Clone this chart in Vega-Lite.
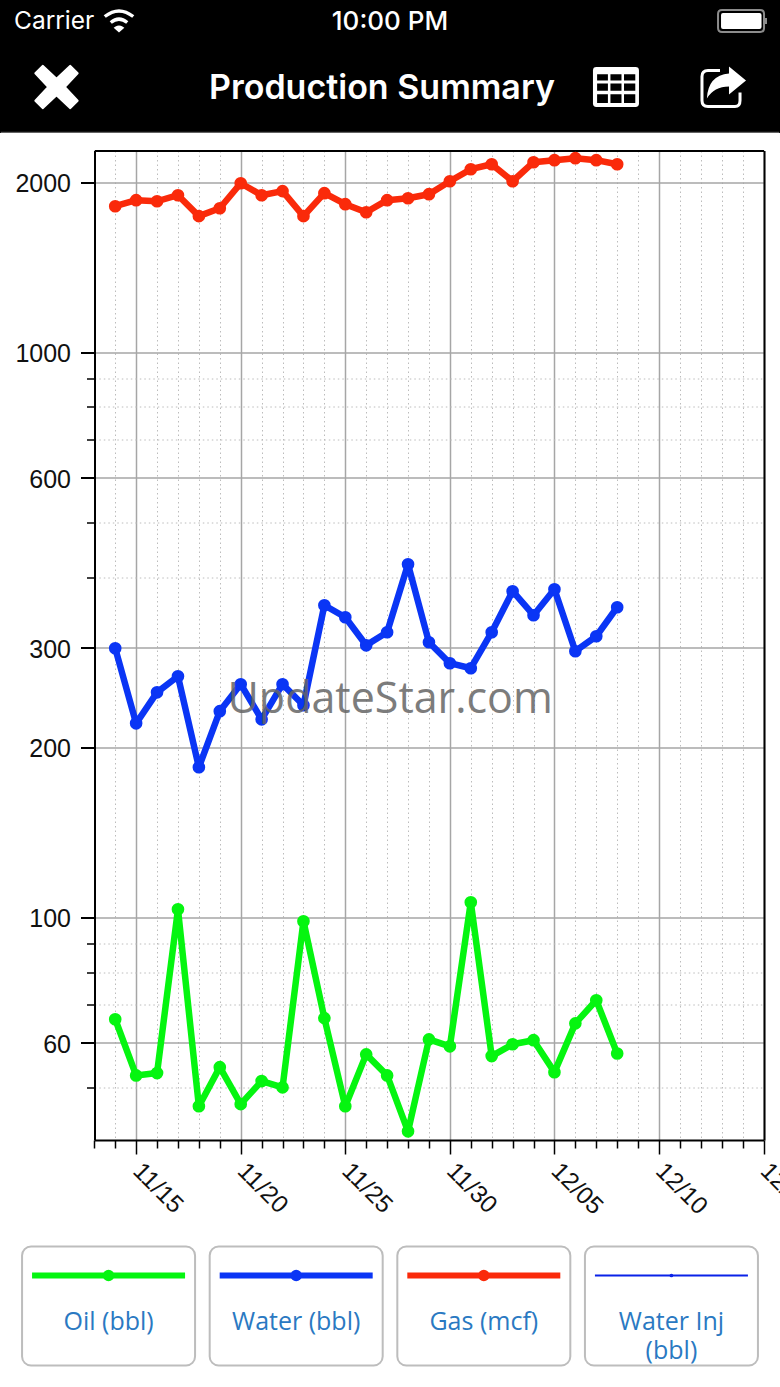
{
"$schema":"https://vega.github.io/schema/vega-lite/v6.json",
"padding":0,"spacing":17.5,"bounds":"flush","background":"#ffffff",
"config":{"view":{"stroke":null}},
"vconcat":[
{"width":780,"height":133,"view":{"fill":"#000000","stroke":null},
 "data":{"values":[
  {"slot":"carrier","label":"Carrier"},
  {"slot":"clock","label":"10:00 PM"},
  {"slot":"title","label":"Production Summary"},
  {"slot":"wifi"},{"slot":"battery"},{"slot":"close"},{"slot":"table"},{"slot":"share"},{"slot":"edge"}]},
 "layer":[
  {"transform":[{"filter":"datum.slot==='edge'"}],"mark":{"type":"rule","color":"#777777","strokeWidth":1},
   "encoding":{"x":{"datum":0.1,"type":"quantitative","axis":null,"scale":{"domain":[0,100],"nice":false,"zero":false}},"x2":{"datum":99.9},"y":{"datum":99.5,"type":"quantitative","axis":null,"scale":{"domain":[0,100],"reverse":true,"nice":false,"zero":false}}}},
  {"transform":[{"filter":"datum.slot==='carrier'"}],"mark":{"type":"text","align":"left","baseline":"middle","font":"Inter","fontSize":24.5,"color":"#ffffff"},
   "encoding":{"x":{"datum":1.795,"type":"quantitative","axis":null},"y":{"datum":16.2,"type":"quantitative","axis":null},"text":{"field":"label"}}},
  {"transform":[{"filter":"datum.slot==='clock'"}],"mark":{"type":"text","align":"center","baseline":"middle","font":"Inter","fontSize":26,"fontWeight":500,"color":"#ffffff"},
   "encoding":{"x":{"datum":50,"type":"quantitative","axis":null},"y":{"datum":16.2,"type":"quantitative","axis":null},"text":{"field":"label"}}},
  {"transform":[{"filter":"datum.slot==='title'"}],"mark":{"type":"text","align":"center","baseline":"middle","font":"Inter","fontSize":34,"fontWeight":600,"color":"#ffffff"},
   "encoding":{"x":{"datum":48.97,"type":"quantitative","axis":null},"y":{"datum":67.2,"type":"quantitative","axis":null},"text":{"field":"label"}}},
  {"transform":[{"filter":"datum.slot==='close'"}],"mark":{"type":"point","filled":true,"fill":"#ffffff","opacity":1,"size":2116,"stroke":"#ffffff","strokeWidth":2,"strokeJoin":"round","shape":"M-0.6,-0.92 L0,-0.36 L0.6,-0.92 L0.92,-0.6 L0.36,0 L0.92,0.6 L0.6,0.92 L0,0.36 L-0.6,0.92 L-0.92,0.6 L-0.36,0 L-0.92,-0.6 Z"},
   "encoding":{"x":{"datum":7.244,"type":"quantitative","axis":null},"y":{"datum":65.41,"type":"quantitative","axis":null}}},
  {"transform":[{"filter":"datum.slot==='wifi'"}],"mark":{"type":"point","filled":false,"fill":null,"stroke":"#ffffff","opacity":1,"strokeWidth":3.4,"size":900,"shape":"M-0.95,-0.3 Q0,-1.05 0.95,-0.3 M-0.55,0.1 Q0,-0.35 0.55,0.1 M-0.17,0.47 L0,0.62 L0.17,0.47 Q0,0.36 -0.17,0.47 Z"},
   "encoding":{"x":{"datum":15.256,"type":"quantitative","axis":null},"y":{"datum":15.79,"type":"quantitative","axis":null}}},
  {"transform":[{"filter":"datum.slot==='battery'"}],"mark":{"type":"point","filled":false,"fill":null,"stroke":"#8c8c8c","opacity":1,"strokeWidth":2,"size":2500,"shape":"M-0.84,-0.44 L0.68,-0.44 Q0.84,-0.44 0.84,-0.28 L0.84,0.28 Q0.84,0.44 0.68,0.44 L-0.84,0.44 Q-1,0.44 -1,0.28 L-1,-0.28 Q-1,-0.44 -0.84,-0.44 Z M0.92,-0.12 L0.92,0.12"},
   "encoding":{"x":{"datum":95.26,"type":"quantitative","axis":null},"y":{"datum":15.79,"type":"quantitative","axis":null}}},
  {"transform":[{"filter":"datum.slot==='battery'"}],"mark":{"type":"point","filled":true,"fill":"#ffffff","stroke":null,"opacity":1,"size":2500,"shape":"M-0.8,-0.32 L0.66,-0.32 Q0.74,-0.32 0.74,-0.24 L0.74,0.24 Q0.74,0.32 0.66,0.32 L-0.8,0.32 Q-0.88,0.32 -0.88,0.24 L-0.88,-0.24 Q-0.88,-0.32 -0.8,-0.32 Z"},
   "encoding":{"x":{"datum":95.26,"type":"quantitative","axis":null},"y":{"datum":15.79,"type":"quantitative","axis":null}}},
  {"transform":[{"filter":"datum.slot==='table'"}],"mark":{"type":"point","filled":true,"fill":"#ffffff","stroke":null,"opacity":1,"size":2116,"shape":"M-0.85,-0.87 L0.85,-0.87 Q1,-0.87 1,-0.72 L1,0.72 Q1,0.87 0.85,0.87 L-0.85,0.87 Q-1,0.87 -1,0.72 L-1,-0.72 Q-1,-0.87 -0.85,-0.87 Z"},
   "encoding":{"x":{"datum":78.97,"type":"quantitative","axis":null},"y":{"datum":65.41,"type":"quantitative","axis":null}}},
  {"transform":[{"filter":"datum.slot==='table'"}],"mark":{"type":"point","filled":true,"fill":"#000000","stroke":null,"opacity":1,"size":2116,"shape":"M-0.82,-0.55 H-0.35 V-0.28 H-0.82 Z M-0.24,-0.55 H0.24 V-0.28 H-0.24 Z M0.35,-0.55 H0.84 V-0.28 H0.35 Z M-0.82,-0.15 H-0.35 V0.16 H-0.82 Z M-0.24,-0.15 H0.24 V0.16 H-0.24 Z M0.35,-0.15 H0.84 V0.16 H0.35 Z M-0.82,0.32 H-0.35 V0.7 H-0.82 Z M-0.24,0.32 H0.24 V0.7 H-0.24 Z M0.35,0.32 H0.84 V0.7 H0.35 Z"},
   "encoding":{"x":{"datum":78.97,"type":"quantitative","axis":null},"y":{"datum":65.41,"type":"quantitative","axis":null}}},
  {"transform":[{"filter":"datum.slot==='share'"}],"mark":{"type":"point","filled":false,"fill":null,"stroke":"#ffffff","opacity":1,"strokeWidth":3,"size":2304,"shape":"M-0.125,-0.69 L-0.625,-0.69 Q-0.875,-0.69 -0.875,-0.44 L-0.875,0.56 Q-0.875,0.81 -0.625,0.81 L0.5,0.81 Q0.71,0.81 0.71,0.56 L0.71,0.23"},
   "encoding":{"x":{"datum":92.69,"type":"quantitative","axis":null},"y":{"datum":65.41,"type":"quantitative","axis":null}}},
  {"transform":[{"filter":"datum.slot==='share'"}],"mark":{"type":"point","filled":true,"fill":"#ffffff","stroke":null,"opacity":1,"size":2304,"shape":"M0.96,-0.27 L0.25,-0.85 L0.25,-0.56 Q-0.625,-0.48 -0.67,0.48 Q-0.375,-0.02 0.25,-0.02 L0.25,0.31 Z"},
   "encoding":{"x":{"datum":92.69,"type":"quantitative","axis":null},"y":{"datum":65.41,"type":"quantitative","axis":null}}}
 ]},
{"width":780,"height":989.5,
 "data":{"values":[
{"date":"2019-11-14","series":"Oil (bbl)","value":66.0},{"date":"2019-11-15","series":"Oil (bbl)","value":52.5},{"date":"2019-11-16","series":"Oil (bbl)","value":53.0},{"date":"2019-11-17","series":"Oil (bbl)","value":103.3},{"date":"2019-11-18","series":"Oil (bbl)","value":46.3},{"date":"2019-11-19","series":"Oil (bbl)","value":54.3},{"date":"2019-11-20","series":"Oil (bbl)","value":46.7},{"date":"2019-11-21","series":"Oil (bbl)","value":51.3},{"date":"2019-11-22","series":"Oil (bbl)","value":50.0},{"date":"2019-11-23","series":"Oil (bbl)","value":98.4},{"date":"2019-11-24","series":"Oil (bbl)","value":66.3},{"date":"2019-11-25","series":"Oil (bbl)","value":46.3},{"date":"2019-11-26","series":"Oil (bbl)","value":57.2},{"date":"2019-11-27","series":"Oil (bbl)","value":52.5},{"date":"2019-11-28","series":"Oil (bbl)","value":41.8},{"date":"2019-11-29","series":"Oil (bbl)","value":60.8},{"date":"2019-11-30","series":"Oil (bbl)","value":59.1},{"date":"2019-12-01","series":"Oil (bbl)","value":106.3},{"date":"2019-12-02","series":"Oil (bbl)","value":56.8},{"date":"2019-12-03","series":"Oil (bbl)","value":59.6},{"date":"2019-12-04","series":"Oil (bbl)","value":60.6},{"date":"2019-12-05","series":"Oil (bbl)","value":53.2},{"date":"2019-12-06","series":"Oil (bbl)","value":64.9},{"date":"2019-12-07","series":"Oil (bbl)","value":71.3},{"date":"2019-12-08","series":"Oil (bbl)","value":57.4},
{"date":"2019-11-14","series":"Water (bbl)","value":299.3},{"date":"2019-11-15","series":"Water (bbl)","value":220.4},{"date":"2019-11-16","series":"Water (bbl)","value":250.1},{"date":"2019-11-17","series":"Water (bbl)","value":267},{"date":"2019-11-18","series":"Water (bbl)","value":184.3},{"date":"2019-11-19","series":"Water (bbl)","value":231.6},{"date":"2019-11-20","series":"Water (bbl)","value":258.5},{"date":"2019-11-21","series":"Water (bbl)","value":224},{"date":"2019-11-22","series":"Water (bbl)","value":258.5},{"date":"2019-11-23","series":"Water (bbl)","value":237.3},{"date":"2019-11-24","series":"Water (bbl)","value":356.6},{"date":"2019-11-25","series":"Water (bbl)","value":339.6},{"date":"2019-11-26","series":"Water (bbl)","value":302.9},{"date":"2019-11-27","series":"Water (bbl)","value":319.5},{"date":"2019-11-28","series":"Water (bbl)","value":421.4},{"date":"2019-11-29","series":"Water (bbl)","value":306.7},{"date":"2019-11-30","series":"Water (bbl)","value":281.6},{"date":"2019-12-01","series":"Water (bbl)","value":275.9},{"date":"2019-12-02","series":"Water (bbl)","value":319.5},{"date":"2019-12-03","series":"Water (bbl)","value":377.6},{"date":"2019-12-04","series":"Water (bbl)","value":342.4},{"date":"2019-12-05","series":"Water (bbl)","value":380.6},{"date":"2019-12-06","series":"Water (bbl)","value":295.7},{"date":"2019-12-07","series":"Water (bbl)","value":314.3},{"date":"2019-12-08","series":"Water (bbl)","value":353.7},
{"date":"2019-11-14","series":"Gas (mcf)","value":1813},{"date":"2019-11-15","series":"Gas (mcf)","value":1858},{"date":"2019-11-16","series":"Gas (mcf)","value":1850},{"date":"2019-11-17","series":"Gas (mcf)","value":1896},{"date":"2019-11-18","series":"Gas (mcf)","value":1741},{"date":"2019-11-19","series":"Gas (mcf)","value":1798},{"date":"2019-11-20","series":"Gas (mcf)","value":1991},{"date":"2019-11-21","series":"Gas (mcf)","value":1896},{"date":"2019-11-22","series":"Gas (mcf)","value":1928},{"date":"2019-11-23","series":"Gas (mcf)","value":1741},{"date":"2019-11-24","series":"Gas (mcf)","value":1912},{"date":"2019-11-25","series":"Gas (mcf)","value":1828},{"date":"2019-11-26","series":"Gas (mcf)","value":1769},{"date":"2019-11-27","series":"Gas (mcf)","value":1858},{"date":"2019-11-28","series":"Gas (mcf)","value":1873},{"date":"2019-11-29","series":"Gas (mcf)","value":1904},{"date":"2019-11-30","series":"Gas (mcf)","value":2007},{"date":"2019-12-01","series":"Gas (mcf)","value":2108},{"date":"2019-12-02","series":"Gas (mcf)","value":2151},{"date":"2019-12-03","series":"Gas (mcf)","value":2007},{"date":"2019-12-04","series":"Gas (mcf)","value":2169},{"date":"2019-12-05","series":"Gas (mcf)","value":2187},{"date":"2019-12-06","series":"Gas (mcf)","value":2205},{"date":"2019-12-07","series":"Gas (mcf)","value":2187},{"date":"2019-12-08","series":"Gas (mcf)","value":2151}
 ]},
 "resolve":{"axis":{"x":"independent","y":"independent"}},
 "layer":[
  {"mark":{"type":"line","strokeWidth":6.5,"strokeJoin":"round"},
   "encoding":{
    "x":{"field":"date","type":"temporal","title":null,"scale":{"type":"utc","domain":["2019-11-13","2019-12-15"],"range":[94.3,763.6]},
     "axis":{"orient":"bottom","values":["2019-11-13","2019-11-14","2019-11-16","2019-11-17","2019-11-18","2019-11-19","2019-11-21","2019-11-22","2019-11-23","2019-11-24","2019-11-26","2019-11-27","2019-11-28","2019-11-29","2019-12-01","2019-12-02","2019-12-03","2019-12-04","2019-12-06","2019-12-07","2019-12-08","2019-12-09","2019-12-11","2019-12-12","2019-12-13","2019-12-14"],"labels":false,"domain":false,"grid":true,"gridColor":"#bcbcbc","gridDash":[1.5,3],"gridWidth":1,"ticks":true,"tickColor":"#000000","tickSize":8,"tickWidth":1.5}},
    "y":{"field":"value","type":"quantitative","title":null,"scale":{"type":"log","domain":[40.35,2275],"nice":false},
     "axis":{"orient":"left","values":[50,70,80,90,400,500,700,800,900],"offset":-94.5,"labels":false,"domain":false,"grid":true,"gridColor":"#bcbcbc","gridDash":[1.5,3],"gridWidth":1,"ticks":true,"tickColor":"#000000","tickSize":8,"tickWidth":1.5}},
    "color":{"field":"series","type":"nominal","legend":null,"scale":{"domain":["Oil (bbl)","Water (bbl)","Gas (mcf)","Water Inj (bbl)"],"range":["#05f510","#0a35f5","#fa2a0a","#0a22e8"]}}}},
  {"mark":{"type":"point","filled":true,"opacity":1,"size":160},
   "encoding":{
    "x":{"field":"date","type":"temporal","title":null,
     "axis":{"orient":"bottom","values":["2019-11-15","2019-11-20","2019-11-25","2019-11-30","2019-12-05","2019-12-10","2019-12-15"],"format":"%m/%d","labelAngle":45,"labelAlign":"left","labelBaseline":"middle","labelFont":"Liberation Sans","labelFontSize":24.5,"labelColor":"#111111","labelPadding":13,"labelOverlap":false,"labelFlush":false,"labelBound":false,"domain":true,"domainColor":"#000000","domainWidth":2,"grid":true,"gridColor":"#a6a6a6","gridWidth":1.5,"ticks":true,"tickColor":"#000000","tickSize":14,"tickWidth":1.5}},
    "y":{"field":"value","type":"quantitative","title":null,
     "axis":{"orient":"left","values":[60,100,200,300,600,1000,2000],"format":"d","offset":-94.5,"labelFont":"Liberation Sans","labelFontSize":25,"labelColor":"#111111","labelPadding":10,"labelOffset":1.5,"labelOverlap":false,"labelFlush":false,"labelBound":false,"domain":true,"domainColor":"#000000","domainWidth":2,"grid":true,"gridColor":"#a6a6a6","gridWidth":1.5,"ticks":true,"tickColor":"#000000","tickSize":14,"tickWidth":2}},
    "color":{"field":"series","type":"nominal","legend":null}}},
  {"data":{"values":[{"date":"2019-11-27","value":244,"label":"UpdateStar.com"}]},
   "mark":{"type":"text","font":"Open Sans","fontSize":43,"align":"center","baseline":"middle","dx":3,"dy":2,"color":"#666666","opacity":0.85},
   "encoding":{
    "x":{"field":"date","type":"temporal","title":null,"axis":{"orient":"top","values":[],"labels":false,"ticks":false,"grid":false,"domain":true,"domainColor":"#000000","domainWidth":2}},
    "y":{"field":"value","type":"quantitative","title":null,"axis":{"orient":"right","offset":-16,"values":[],"labels":false,"ticks":false,"grid":false,"domain":true,"domainColor":"#000000","domainWidth":2}},
    "text":{"field":"label"}}}
 ]},
{"width":780,"height":229.5,
 "data":{"values":[
  {"series":"Oil (bbl)","part":"button"},{"series":"Water (bbl)","part":"button"},{"series":"Gas (mcf)","part":"button"},{"series":"Water Inj (bbl)","part":"button"},
  {"series":"Oil (bbl)","part":"swatch"},{"series":"Water (bbl)","part":"swatch"},{"series":"Gas (mcf)","part":"swatch"},{"series":"Water Inj (bbl)","part":"swatch"},
  {"series":"Oil (bbl)","part":"line1","label":"Oil (bbl)"},{"series":"Water (bbl)","part":"line1","label":"Water (bbl)"},{"series":"Gas (mcf)","part":"line1","label":"Gas (mcf)"},{"series":"Water Inj (bbl)","part":"line1","label":"Water Inj"},{"series":"Water Inj (bbl)","part":"line2","label":"(bbl)"}]},
 "encoding":{
  "x":{"field":"series","type":"nominal","axis":null,"scale":{"type":"band","domain":["Oil (bbl)","Water (bbl)","Gas (mcf)","Water Inj (bbl)"],"range":[22,758],"paddingInner":0.0773,"paddingOuter":0}},
  "y":{"field":"part","type":"nominal","axis":null,"scale":{"type":"point","domain":["swatch","button","line1","line2"],"range":[117.5,192.5],"padding":0}}},
 "layer":[
  {"transform":[{"filter":"datum.part==='button'"}],"mark":{"type":"rect","width":173,"height":119,"yOffset":5.5,"fill":"#ffffff","stroke":"#bdbdbd","strokeWidth":2,"cornerRadius":9}},
  {"transform":[{"filter":"datum.part==='swatch'&&datum.series!=='Water Inj (bbl)'"}],"mark":{"type":"rect","width":153,"height":6},"encoding":{"color":{"field":"series","type":"nominal","legend":null,"scale":{"domain":["Oil (bbl)","Water (bbl)","Gas (mcf)","Water Inj (bbl)"],"range":["#05f510","#0a35f5","#fa2a0a","#0a22e8"]}}}},
  {"transform":[{"filter":"datum.part==='swatch'&&datum.series==='Water Inj (bbl)'"}],"mark":{"type":"rect","width":153,"height":2},"encoding":{"color":{"field":"series","type":"nominal","legend":null}}},
  {"transform":[{"filter":"datum.part==='swatch'&&datum.series!=='Water Inj (bbl)'"}],"mark":{"type":"point","filled":true,"opacity":1,"size":130},"encoding":{"color":{"field":"series","type":"nominal","legend":null}}},
  {"transform":[{"filter":"datum.part==='swatch'&&datum.series==='Water Inj (bbl)'"}],"mark":{"type":"point","filled":true,"opacity":1,"size":14},"encoding":{"color":{"field":"series","type":"nominal","legend":null}}},
  {"transform":[{"filter":"datum.part==='line1'"}],"mark":{"type":"text","font":"Open Sans","fontSize":25,"align":"center","baseline":"middle","dy":-4,"color":"#2a79c2"},"encoding":{"text":{"field":"label"}}},
  {"transform":[{"filter":"datum.part==='line2'"}],"mark":{"type":"text","font":"Open Sans","fontSize":25,"align":"center","baseline":"middle","color":"#2a79c2"},"encoding":{"text":{"field":"label"}}}
 ]}
]}
